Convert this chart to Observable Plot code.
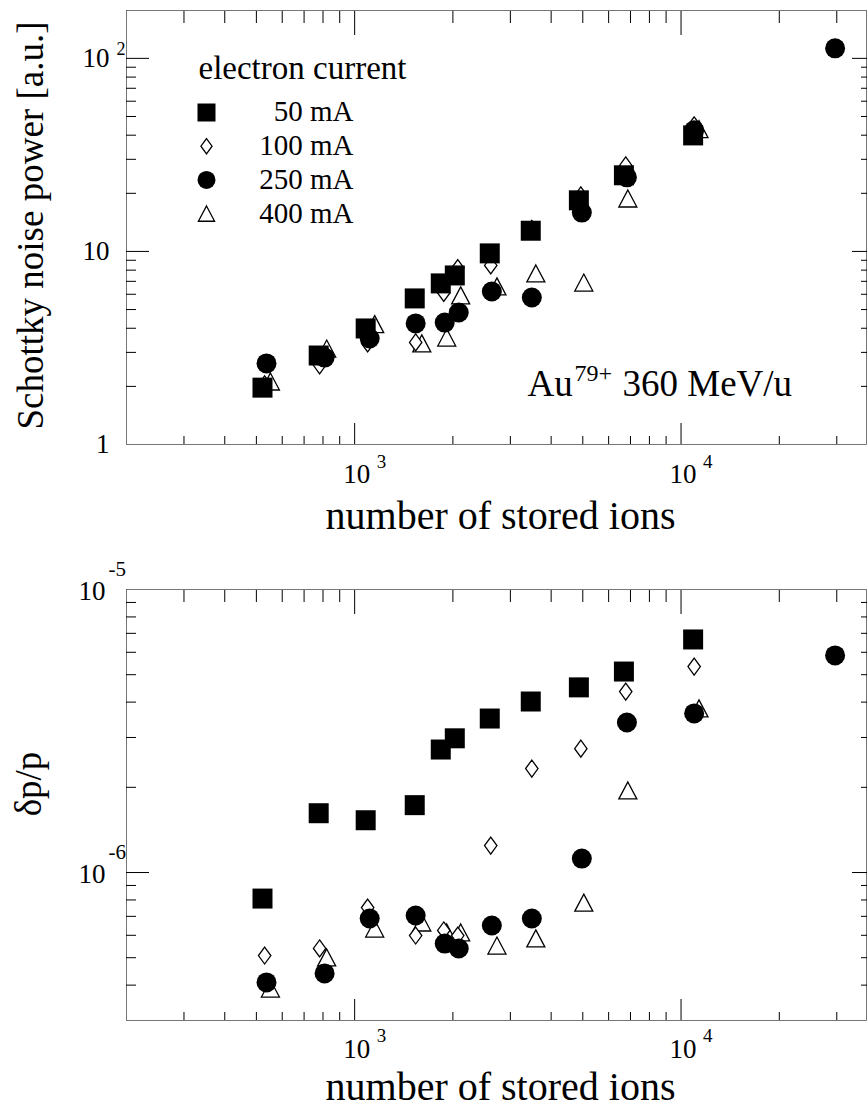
<!DOCTYPE html>
<html><head><meta charset="utf-8">
<script src="https://cdn.jsdelivr.net/npm/d3@7"></script>
<script src="https://cdn.jsdelivr.net/npm/@observablehq/plot@0.6"></script>
<style>
html,body{margin:0;padding:0;background:#fff;}
#chart{width:867px;}
#chart svg{display:block;font-family:"Liberation Serif","Times New Roman",Times,serif !important;}
#chart svg text{font-family:"Liberation Serif","Times New Roman",Times,serif !important;}
</style></head><body><div id="chart"></div>
<script>
// ---------- data ----------
const currents = ["50 mA", "100 mA", "250 mA", "400 mA"];

const ions50  = [522, 776, 1081, 1528, 1836, 2027, 2594, 3464, 4864, 6683, 10890];
const noise50 = [1.97, 2.89, 3.99, 5.71, 6.83, 7.51, 9.77, 12.8, 18.4, 24.8, 39.9];
const dpp50   = [8.09e-7, 1.62e-6, 1.53e-6, 1.73e-6, 2.72e-6, 2.98e-6, 3.50e-6, 4.02e-6, 4.51e-6, 5.13e-6, 6.66e-6];

const ions100  = [530, 781, 1096, 1538, 1875, 2070, 2612, 3490, 4932, 6770, 10970];
const noise100 = [2.05, 2.57, 3.34, 3.38, 6.1, 8.2, 8.46, 13.1, 19.5, 27.9, 45];
const dpp100   = [5.09e-7, 5.39e-7, 7.52e-7, 5.99e-7, 6.24e-7, 5.99e-7, 1.245e-6, 2.33e-6, 2.74e-6, 4.36e-6, 5.34e-6];

const ions250  = [537, 809, 1112, 1538, 1888, 2084, 2632, 3490, 4966, 6826, 10970, 29650];
const noise250 = [2.63, 2.82, 3.54, 4.24, 4.28, 4.83, 6.2, 5.77, 15.9, 24.2, 42.4, 112.7];
const dpp250   = [4.09e-7, 4.40e-7, 6.88e-7, 7.05e-7, 5.61e-7, 5.39e-7, 6.5e-7, 6.88e-7, 1.12e-6, 3.39e-6, 3.65e-6, 5.85e-6];

const ions400  = [552, 821, 1152, 1606, 1915, 2113, 2729, 3590, 5036, 6871, 11350];
const noise400 = [2.12, 3.14, 4.2, 3.34, 3.58, 5.92, 6.59, 7.69, 6.9, 18.8, 43];
const dpp400   = [3.89e-7, 5.01e-7, 6.34e-7, 6.66e-7, 6.14e-7, 6.14e-7, 5.52e-7, 5.85e-7, 7.83e-7, 1.95e-6, 3.8e-6];

// ticks and tick labels
const xMajorTicks = [1e3, 1e4];
const xMinorTicks = [300, 400, 500, 600, 700, 800, 900, 2000, 3000, 4000, 5000, 6000, 7000, 8000, 9000, 20000, 30000];
const noiseMajorTicks = [10, 100];
const noiseMinorTicks = [2, 3, 4, 5, 6, 7, 8, 9, 20, 30, 40, 50, 60, 70, 80, 90];
const dppMajorTicks = [1e-6];
const dppMinorTicks = [4e-7, 5e-7, 6e-7, 7e-7, 8e-7, 9e-7, 2e-6, 3e-6, 4e-6, 5e-6, 6e-6, 7e-6, 8e-6, 9e-6];
const xTickLabels = [{value: 1e3, base: "10", exp: "3"}, {value: 1e4, base: "10", exp: "4"}];
const noiseTickLabels = [{value: 1, base: "1", exp: ""}, {value: 10, base: "10", exp: ""}, {value: 100, base: "10", exp: "2"}];
const dppTickLabels = [{value: 1e-5, base: "10", exp: "-5"}, {value: 1e-6, base: "10", exp: "-6"}];

// ---------- styling ----------
const FONT = "Liberation Serif";
const STYLE = "font-family: 'Liberation Serif', 'Times New Roman', Times, serif; font-size: 27px; background: white; color: black; overflow: visible;";
const symSquare = {draw(c, s) { const r = Math.sqrt(s / Math.PI); c.rect(-r, -r, 2 * r, 2 * r); }};
const symCircle = {draw(c, s) { const r = Math.sqrt(s / Math.PI); c.moveTo(r, 0); c.arc(0, 0, r, 0, 2 * Math.PI); }};
const symDiamond = {draw(c, s) { const r = Math.sqrt(s / Math.PI), h = 0.85 * r, w = 0.62 * r;
  c.moveTo(0, -h); c.lineTo(w, 0); c.lineTo(0, h); c.lineTo(-w, 0); c.closePath(); }};
const symTriangle = {draw(c, s) { const r = Math.sqrt(s / Math.PI), h = 0.85 * r, w = 0.9 * r;
  c.moveTo(0, -h); c.lineTo(w, h); c.lineTo(-w, h); c.closePath(); }};

const series = [
  {name: currents[0], ions: ions50, noise: noise50, dpp: dpp50, symbol: symSquare, fill: "black", stroke: "none"},
  {name: currents[1], ions: ions100, noise: noise100, dpp: dpp100, symbol: symDiamond, fill: "white", stroke: "black"},
  {name: currents[2], ions: ions250, noise: noise250, dpp: dpp250, symbol: symCircle, fill: "black", stroke: "none"},
  {name: currents[3], ions: ions400, noise: noise400, dpp: dpp400, symbol: symTriangle, fill: "white", stroke: "black"}
];
const drawOrder = [series[3], series[1], series[2], series[0]];

function T(data, opts) { return Plot.text(data, {fontFamily: FONT, fill: "black", ...opts}); }

function tickMarks(yMinor, yMajor) {
  const c = {tickFormat: () => "", label: null, strokeWidth: 1};
  return [
    Plot.axisX({...c, ticks: xMinorTicks, anchor: "bottom", tickSize: 8, dy: -8}),
    Plot.axisX({...c, ticks: xMajorTicks, anchor: "bottom", tickSize: 21, dy: -21}),
    Plot.axisX({...c, ticks: xMinorTicks, anchor: "top", tickSize: 12, dy: 12}),
    Plot.axisX({...c, ticks: xMajorTicks, anchor: "top", tickSize: 24, dy: 24}),
    Plot.axisY({...c, ticks: yMinor, anchor: "left", tickSize: 10, dx: 10}),
    Plot.axisY({...c, ticks: yMajor, anchor: "left", tickSize: 23, dx: 23}),
    Plot.axisY({...c, ticks: yMinor, anchor: "right", tickSize: 6, dx: -6}),
    Plot.axisY({...c, ticks: yMajor, anchor: "right", tickSize: 15, dx: -15})
  ];
}

function xLabelMarks(baseDy, expDy, titleDy) {
  return [
    T(xTickLabels, {x: "value", frameAnchor: "bottom", dx: 2, dy: baseDy, text: "base", fontSize: 27, lineAnchor: "bottom"}),
    T(xTickLabels, {x: "value", frameAnchor: "bottom", dx: 22, dy: expDy, text: "exp", fontSize: 19, textAnchor: "start", lineAnchor: "bottom"}),
    T(["number of stored ions"], {frameAnchor: "bottom", dx: 4, dy: titleDy, text: d => d, fontSize: 40, lineAnchor: "bottom"})
  ];
}

function seriesMarks(key) {
  return drawOrder.map(s => Plot.dot(s.ions.map((x, i) => ({x, y: s[key][i]})),
    {x: "x", y: "y", symbol: s.symbol, r: 10, fill: s.fill, stroke: s.stroke, strokeWidth: 1.3}));
}

// ---------- top panel ----------
const legendMarks = [
  T(["electron current"], {frameAnchor: "top-left", dx: 72, dy: 68, text: d => d, fontSize: 33, textAnchor: "start", lineAnchor: "bottom"})
];
series.forEach((s, i) => {
  legendMarks.push(Plot.dot([s.name], {frameAnchor: "top-left", dx: 80, dy: 102 + i * 33.7, symbol: s.symbol, r: 9, fill: s.fill, stroke: s.stroke, strokeWidth: 1.3}));
  legendMarks.push(T([s.name], {frameAnchor: "top-left", dx: 227, dy: 110 + i * 34, text: d => d, fontSize: 29, textAnchor: "end", lineAnchor: "bottom"}));
});

const topPlot = Plot.plot({
  width: 867, height: 545,
  marginLeft: 126, marginRight: 1, marginTop: 10, marginBottom: 101,
  style: STYLE,
  x: {type: "log", domain: [200, 37000]},
  y: {type: "log", domain: [1, 177]},
  marks: [
    Plot.frame({stroke: "#555", strokeWidth: 0.8}),
    ...tickMarks(noiseMinorTicks, noiseMajorTicks),
    T(noiseTickLabels, {y: "value", frameAnchor: "left", dx: -17, text: "base", fontSize: 27, textAnchor: "end", lineAnchor: "middle"}),
    T(noiseTickLabels.filter(d => d.exp), {y: "value", frameAnchor: "left", dx: -10, dy: -3, text: "exp", fontSize: 18, textAnchor: "start", lineAnchor: "bottom"}),
    ...xLabelMarks(38, 23, 84),
    T(["Schottky noise power [a.u.]"], {frameAnchor: "left", dx: -84, dy: -2, rotate: -90, text: d => d, fontSize: 37, textAnchor: "middle", lineAnchor: "bottom"}),
    ...seriesMarks("noise"),
    ...legendMarks,
    T(["Au"], {frameAnchor: "top-left", dx: 401, dy: 385, text: d => d, fontSize: 37, textAnchor: "start", lineAnchor: "bottom"}),
    T(["79+"], {frameAnchor: "top-left", dx: 448, dy: 370, text: d => d, fontSize: 24, textAnchor: "start", lineAnchor: "bottom"}),
    T(["360 MeV/u"], {frameAnchor: "top-left", dx: 496, dy: 385, text: d => d, fontSize: 37, textAnchor: "start", lineAnchor: "bottom"})
  ]
});

// ---------- bottom panel ----------
const bottomPlot = Plot.plot({
  width: 867, height: 565,
  marginLeft: 126, marginRight: 1, marginTop: 44, marginBottom: 90,
  style: STYLE,
  x: {type: "log", domain: [200, 37000]},
  y: {type: "log", domain: [3e-7, 1e-5]},
  marks: [
    Plot.frame({stroke: "#555", strokeWidth: 0.8}),
    ...tickMarks(dppMinorTicks, dppMajorTicks),
    T(dppTickLabels, {y: "value", frameAnchor: "left", dx: -21, dy: 2, text: "base", fontSize: 27, textAnchor: "end", lineAnchor: "middle"}),
    T(dppTickLabels, {y: "value", frameAnchor: "left", dx: -18, dy: -14, text: "exp", fontSize: 21, textAnchor: "start", lineAnchor: "bottom"}),
    ...xLabelMarks(37, 21, 79),
    T(["δp/p"], {frameAnchor: "left", dx: -86, dy: -21, rotate: -90, text: d => d, fontSize: 37, textAnchor: "middle", lineAnchor: "bottom"}),
    ...seriesMarks("dpp")
  ]
});

document.getElementById("chart").append(topPlot, bottomPlot);
</script></body></html>
